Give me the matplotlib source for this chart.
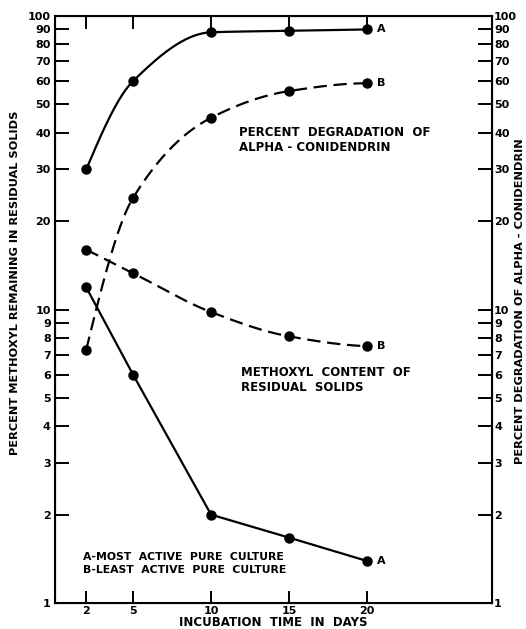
# recreate the alpha-conidendrin degradation / methoxyl chart

import matplotlib.pyplot as plt
import numpy as np

plt.rcParams['font.family'] = ['DejaVu Sans']

# data
days = [2, 5, 10, 15, 20]
degradation_a = [30, 60, 88, 89, 90]
degradation_b = [7.3, 24, 45, 55.5, 59]
methoxyl_a = [11.9, 6.0, 2.0, 1.67, 1.39]
methoxyl_b = [16.0, 13.3, 9.8, 8.1, 7.5]

y_ticks = [1, 2, 3, 4, 5, 6, 7, 8, 9, 10, 20, 30, 40, 50, 60, 70, 80, 90, 100]
x_ticks = [2, 5, 10, 15, 20]


def smooth(x, y, n=200):
    # monotone cubic hermite through the points, done in log space
    x = np.asarray(x, float)
    ly = np.log10(np.asarray(y, float))
    h = np.diff(x)
    d = np.diff(ly) / h
    m = np.zeros_like(ly)
    # one-sided three point slopes at the ends
    m[0] = ((2 * h[0] + h[1]) * d[0] - h[0] * d[1]) / (h[0] + h[1])
    m[-1] = ((2 * h[-1] + h[-2]) * d[-1] - h[-1] * d[-2]) / (h[-1] + h[-2])
    if m[0] * d[0] <= 0:
        m[0] = 0
    if m[-1] * d[-1] <= 0:
        m[-1] = 0
    for i in range(1, len(x) - 1):
        if d[i - 1] * d[i] > 0:
            w1 = 2 * h[i] + h[i - 1]
            w2 = h[i] + 2 * h[i - 1]
            m[i] = (w1 + w2) / (w1 / d[i - 1] + w2 / d[i])
    xs = np.linspace(x[0], x[-1], n)
    idx = np.clip(np.searchsorted(x, xs) - 1, 0, len(x) - 2)
    t = (xs - x[idx]) / h[idx]
    h00 = 2 * t**3 - 3 * t**2 + 1
    h10 = t**3 - 2 * t**2 + t
    h01 = -2 * t**3 + 3 * t**2
    h11 = t**3 - t**2
    ys = h00 * ly[idx] + h10 * h[idx] * m[idx] + h01 * ly[idx + 1] + h11 * h[idx] * m[idx + 1]
    return xs, 10**ys


fig = plt.figure(figsize=(5.26, 6.29), dpi=100)
ax = fig.add_axes([55 / 526, 26 / 629, 437 / 526, 587 / 629])

lw = 1.6
dash = (0, (6, 3))

# curves
xs, ys = smooth(days, degradation_a)
ax.plot(xs, ys, color='black', lw=lw)
xs, ys = smooth(days, degradation_b)
ax.plot(xs, ys, color='black', lw=lw, linestyle=dash)
xs, ys = smooth(days, methoxyl_b)
ax.plot(xs, ys, color='black', lw=lw, linestyle=dash)
ax.plot(days, methoxyl_a, color='black', lw=lw)

for series in [degradation_a, degradation_b, methoxyl_a, methoxyl_b]:
    ax.plot(days, series, 'o', color='black', markersize=6.5)

# end labels
lab = dict(fontsize=8, fontweight='bold', va='center', ha='left')
ax.text(days[-1] + 0.6, degradation_a[-1], 'A', **lab)
ax.text(days[-1] + 0.6, degradation_b[-1], 'B', **lab)
ax.text(days[-1] + 0.6, methoxyl_b[-1], 'B', **lab)
ax.text(days[-1] + 0.6, methoxyl_a[-1], 'A', **lab)

txt = dict(fontsize=8.5, fontweight='semibold', ha='left', va='top', linespacing=1.2)
ax.text(0.42, 0.812, 'PERCENT  DEGRADATION  OF\nALPHA - CONIDENDRIN', transform=ax.transAxes, **txt)
ax.text(0.425, 0.403, 'METHOXYL  CONTENT  OF\nRESIDUAL  SOLIDS', transform=ax.transAxes, **txt)
ax.text(0.065, 0.087, 'A-MOST  ACTIVE  PURE  CULTURE\nB-LEAST  ACTIVE  PURE  CULTURE',
        transform=ax.transAxes, fontsize=7.8, fontweight='bold', ha='left', va='top', linespacing=1.4)

# axes setup
ax.set_yscale('log')
ax.set_ylim(1, 100)
ax.set_xlim(0, 28)
ax.set_yticks(y_ticks)
ax.set_yticklabels([str(v) for v in y_ticks])
ax.minorticks_off()
ax.set_xticks(x_ticks)
ax.set_xticklabels([str(v) for v in x_ticks])
ax.tick_params(axis='y', direction='in', length=10, width=1.4, labelsize=8, pad=3)
ax.tick_params(axis='x', direction='in', length=9, width=1.4, labelsize=8, pad=2, top=True)
for lbl in ax.get_xticklabels() + ax.get_yticklabels():
    lbl.set_fontweight('bold')
for s in ax.spines.values():
    s.set_linewidth(1.5)

ax.set_xlabel('INCUBATION  TIME  IN  DAYS', fontsize=8.5, fontweight='semibold')
ax.xaxis.set_label_coords(0.5, -0.022)
ax.xaxis.label.set_va('top')
ax.set_ylabel('PERCENT METHOXYL REMAINING IN RESIDUAL SOLIDS', fontsize=8.2, fontweight='semibold')
ax.yaxis.set_label_coords(-0.08, 0.545)

# right axis repeats the same log scale
ax2 = ax.twinx()
ax2.set_yscale('log')
ax2.set_ylim(1, 100)
ax2.set_yticks(y_ticks)
ax2.set_yticklabels([str(v) for v in y_ticks])
ax2.minorticks_off()
ax2.tick_params(axis='y', direction='in', length=10, width=1.4, labelsize=8, pad=1.5)
for lbl in ax2.get_yticklabels():
    lbl.set_fontweight('bold')
ax2.set_ylabel('PERCENT DEGRADATION OF ALPHA - CONIDENDRIN', fontsize=8.2, fontweight='semibold')
ax2.yaxis.set_label_coords(1.052, 0.515)

plt.savefig('out.png', dpi=100)
plt.close()
